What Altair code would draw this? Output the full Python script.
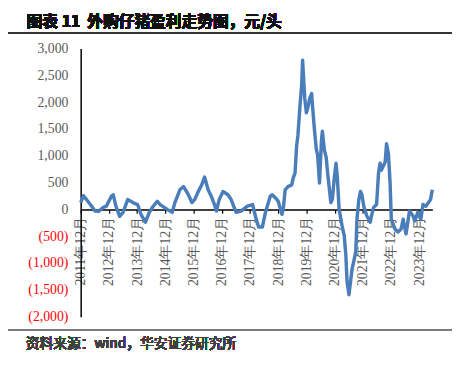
import altair as alt
import pandas as pd

TITLE = "图表 11\u00a0\u00a0外购仔猪盈利走势图，元/头"
SOURCE = "资料来源：wind，华安证券研究所"

dates = [
    "2011-12-01", "2012-01-07", "2012-04-04", "2012-06-04", "2012-07-19", "2012-09-19", "2012-10-28",
    "2013-01-01", "2013-01-25", "2013-03-01", "2013-04-19", "2013-06-01", "2013-08-01", "2013-10-07",
    "2013-12-07", "2014-01-19", "2014-03-19", "2014-05-07", "2014-06-16", "2014-08-19", "2014-09-25",
    "2014-12-25", "2015-02-28", "2015-04-04", "2015-06-07", "2015-07-25", "2015-09-25", "2015-11-10",
    "2015-12-16", "2016-02-01", "2016-03-16", "2016-04-22", "2016-06-07", "2016-07-19", "2016-08-28",
    "2016-09-22", "2016-10-28", "2016-12-16", "2017-02-19", "2017-04-01", "2017-06-04", "2017-08-07",
    "2017-10-28", "2018-01-04", "2018-02-13", "2018-03-22", "2018-05-10", "2018-06-19", "2018-08-19",
    "2018-09-13", "2018-10-25", "2018-12-01", "2019-01-19", "2019-02-07", "2019-03-01", "2019-04-07",
    "2019-05-25", "2019-06-13", "2019-07-07", "2019-07-28", "2019-08-13", "2019-09-07", "2019-10-01",
    "2019-10-13", "2019-11-10", "2019-12-01", "2019-12-19", "2020-01-13", "2020-02-07", "2020-02-19",
    "2020-03-16", "2020-04-07", "2020-04-25", "2020-05-19", "2020-06-13", "2020-06-25", "2020-07-22",
    "2020-08-13", "2020-09-01", "2020-09-25", "2020-10-13", "2020-11-01", "2020-11-28", "2020-12-19",
    "2021-01-04", "2021-01-28", "2021-03-07", "2021-04-04", "2021-04-25", "2021-05-10", "2021-06-04",
    "2021-07-13", "2021-09-01", "2021-09-16", "2021-10-10", "2021-11-01", "2021-11-19", "2021-12-13",
    "2022-01-22", "2022-03-07", "2022-03-22", "2022-04-19", "2022-05-28", "2022-06-22", "2022-07-13",
    "2022-07-28", "2022-09-16", "2022-10-04", "2022-10-28", "2022-11-19", "2022-12-04", "2023-01-22",
    "2023-03-01", "2023-04-10", "2023-05-07", "2023-06-13", "2023-07-28", "2023-09-13", "2023-10-04",
    "2023-11-13", "2023-12-22", "2024-01-19", "2024-02-25", "2024-04-10", "2024-04-25", "2024-05-19",
]
profit = [
    128, 256, 91, -31, -37, 37, 60,
    243, 274, 60, -128, -55, 183, 128,
    91, -91, -238, -55, 37, 152, 91,
    0, -55, 128, 366, 426, 274, 128,
    183, 335, 457, 604, 366, 243, 91,
    -31, 183, 335, 274, 183, -55, -31,
    60, 91, -146, -329, -329, -55, 243,
    274, 219, 152, -91, 37, 366, 426,
    457, 585, 677, 1190, 1370, 1890, 2320,
    2780, 2070, 1800, 1890, 2070, 2160, 1920,
    1460, 1130, 1010, 494, 1280, 1460, 1100,
    975, 677, 366, 128, 183, 609, 860,
    609, 0, -305, -488, -854, -1335, -1590,
    -1128, -786, -183, 183, 335, 274, 60,
    -122, -238, -122, 37, 91, 677, 860,
    732, 883, 1225, 1043, 494, -183, -366,
    -420, -366, -183, -457, -31, -122, -214,
    -55, -183, 91, 60, 152, 183, 366,
]
tick_years = list(range(2011, 2024))
y_ticks = [-2000, -1500, -1000, -500, 0, 500, 1000, 1500, 2000, 2500, 3000]

df = pd.DataFrame({"date": dates, "profit": profit})

W, H = 358, 273

x_enc = alt.X(
    "date:T",
    scale=alt.Scale(type="utc",
                    domain=[alt.DateTime(year=2011, month=12, date=1, utc=True),
                            alt.DateTime(year=2024, month=5, date=19, utc=True)]),
    axis=alt.Axis(
        values=[alt.DateTime(year=y, month=12, date=1, utc=True) for y in tick_years],
        labelExpr="utcFormat(datum.value, '%Y') + '年' + utcFormat(datum.value, '%m') + '月'",
        labelAngle=270, labelFont="Liberation Serif", labelFontSize=14,
        labelColor="#595959", labelPadding=3, labelOverlap=False,
        domainColor="#000000", domainWidth=1.5, tickColor="#000000", tickSize=4,
        tickWidth=1.2, grid=False, title=None, offset=-H * 0.4,
    ),
)
y_enc = alt.Y(
    "profit:Q",
    scale=alt.Scale(domain=[-2000, 3000], nice=False),
    axis=alt.Axis(
        values=y_ticks,
        labelExpr="datum.value < 0 ? '(' + format(-datum.value, ',') + ')' : format(datum.value, ',') + '\u00a0'",
        labelColor={"condition": {"test": "datum.value < 0", "value": "#FF0000"}, "value": "#595959"},
        labelFont="Liberation Serif", labelFontSize=14, labelPadding=13,
        ticks=False, domainColor="#000000", domainWidth=1.5, grid=False, title=None,
    ),
)

line = alt.Chart(df).mark_line(color="#4A7EBB", strokeWidth=3.5, strokeJoin="round").encode(
    x=x_enc, y=y_enc
)

top_rule = alt.Chart(df).mark_rule(color="#333333", strokeWidth=1.5).encode(
    x=alt.value(-74), x2=alt.value(W + 20), y=alt.value(-16)
)
bottom_rule = alt.Chart(df).mark_rule(color="#808080", strokeWidth=1).encode(
    x=alt.value(-74), x2=alt.value(W + 20), y=alt.value(287)
)
title = alt.Chart(df).mark_text(
    text=TITLE, align="left", baseline="alphabetic", font="Noto Sans CJK SC",
    fontSize=16, fontWeight="bold", color="#111111"
).encode(x=alt.value(-55), y=alt.value(-22))
source = alt.Chart(df).mark_text(
    text=SOURCE, align="left", baseline="middle", font="Noto Sans CJK SC",
    fontSize=14, fontWeight="normal", color="#404040"
).encode(x=alt.value(-56), y=alt.value(301))

chart = alt.layer(line, top_rule, bottom_rule, title, source).properties(
    width=W, height=H,
    autosize=alt.AutoSizeParams(type="none"),
    padding={"left": 74, "top": 38, "right": 20, "bottom": 50},
).configure_view(stroke=None)

chart.save("out.html", embed_options={"renderer": "svg", "actions": False})
